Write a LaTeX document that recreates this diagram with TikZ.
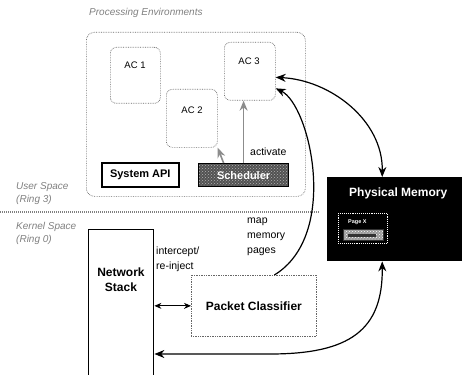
\documentclass[tikz,border=0pt]{standalone}
\usepackage{fontspec}
\setmainfont{Liberation Sans}
\usetikzlibrary{arrows.meta,patterns}
\begin{document}
\begin{tikzpicture}[x=1pt,y=-1pt,
  dbox/.style={draw=black!60, densely dotted, line width=0.7pt, rounded corners=6pt, inner sep=0pt, anchor=north west},
  solidbox/.style={draw=black, line width=1.4pt, inner sep=0pt, anchor=north west, fill=white},
  tip/.style={-{Stealth[length=10pt,width=8pt]}},
  dtip/.style={{Stealth[length=10pt,width=8pt]}-{Stealth[length=10pt,width=8pt]}},
  conn/.style={line width=1.2pt, black},
  grayarrow/.style={draw=black!45, line width=1.6pt, -{Stealth[length=10pt,width=8pt,fill=black!35]}},
  lbl/.style={font=\fontsize{10}{13}\selectfont\itshape, text=black!50, align=left, inner sep=0pt, anchor=north west},
  txt/.style={font=\fontsize{10.5}{15}\selectfont, align=left, inner sep=0pt, anchor=north west},
  actxt/.style={font=\fontsize{9.5}{11}\selectfont, inner sep=0pt},
  boldtxt/.style={font=\fontsize{12}{15}\selectfont\bfseries, inner sep=0pt, align=center}]
\useasboundingbox (0,0) rectangle (462,374);
\clip (0,0) rectangle (462,374);

% labels
\node[lbl] (title) at (89,8) {Processing Environments};
\node[lbl] (user) at (16,182) {User Space\\(Ring 3)};
\node[lbl] (kernel) at (16,222) {Kernel Space\\(Ring 0)};

% separator
\coordinate (sepL) at (0,212);
\coordinate (sepR) at (320,212);
\draw[black!50, line width=1.6pt, dash pattern=on 1pt off 1pt] (sepL) -- (sepR);

% processing environment
\node[dbox, rounded corners=8pt, minimum width=219pt, minimum height=164pt] (outer) at (86,32) {};
\node[dbox, minimum width=50pt, minimum height=56pt] (ac1) at (110,47) {};
\node[dbox, minimum width=51pt, minimum height=58pt] (ac2) at (166,89) {};
\node[dbox, minimum width=51pt, minimum height=58pt] (ac3) at (224,42) {};
\node[actxt] (ac1t) at (135,65) {AC 1};
\node[actxt] (ac2t) at (192,110) {AC 2};
\node[actxt] (ac3t) at (249,61) {AC 3};

\node[solidbox, line width=1.6pt, minimum width=77pt, minimum height=24pt, font=\fontsize{11}{13}\selectfont\bfseries] (api) at (101,162) {System API};
\node[draw=black, line width=1.2pt, inner sep=0pt, anchor=north west, minimum width=90pt, minimum height=23pt,
      preaction={fill=black!68}, pattern=crosshatch dots, pattern color=black!30] (sched) at (198,163) {};
\node[font=\fontsize{11}{13}\selectfont\bfseries, text=white, inner sep=0pt] (schedt) at (sched.center) {Scheduler};

\draw[grayarrow] ([xshift=-20pt]sched.north) -- (ac2.south east);
\draw[grayarrow] (sched.north) -- (sched.north |- ac3.south);
\node[txt, font=\fontsize{10.5}{13}\selectfont] (act) at (250,148) {activate};

% kernel
\node[solidbox, line width=1.4pt, minimum width=65pt, minimum height=160pt] (net) at (88,229) {};
\node[boldtxt] (nett) at (121,280) {Network\\Stack};
\node[txt] (icpt) at (156,247) {intercept/\\re-inject};
\node[dbox, rounded corners=0pt, minimum width=125pt, minimum height=61pt] (pc) at (191,275) {};
\node[boldtxt] (pct) at (pc.center) {Packet Classifier};
\node[txt] (map) at (247,218) {map\\memory\\pages};

% physical memory
\node[fill=black, inner sep=0pt, anchor=north west, minimum width=135pt, minimum height=84pt] (pm) at (327,177) {};
\node[font=\fontsize{12}{14}\selectfont\bfseries, text=white, inner sep=0pt, anchor=west] (pmt) at (349,193) {Physical Memory};
\node[draw=white, densely dotted, line width=0.9pt, inner sep=0pt, anchor=north west, minimum width=49pt, minimum height=30pt] (page) at (338,213) {};
\node[font=\fontsize{5.5}{7}\selectfont\bfseries, text=white, inner sep=0pt, anchor=west] (paget) at (348,222) {Page X};
\node[draw=black!80, line width=0.6pt, inner sep=0pt, anchor=north west, minimum width=40pt, minimum height=11pt,
      preaction={fill=black!40}, pattern=crosshatch dots, pattern color=white] (pagebar) at (343,229) {};
\node[fill=black!80, inner sep=0pt, anchor=north west, minimum width=28pt, minimum height=3pt] (pagecore) at (348,234) {};

% connectors
\draw[line width=0.9pt, {Stealth[length=7pt,width=6pt]}-{Stealth[length=7pt,width=6pt]}] (pc.west -| net.east) -- (pc.west);
\coordinate (lowy) at (0,354);
\coordinate (bend) at (270,354);
\draw[conn, dtip] (net.east |- lowy) -- (bend) .. controls (350,354) and (383,330) .. ([xshift=-12.5pt]pm.south);
\draw[conn, dtip] ([yshift=-6pt]ac3.east) .. controls (330,80) and (383,120) .. ([xshift=-12.5pt]pm.north);
\draw[conn, tip] ([xshift=20.5pt]pc.north) .. controls (340,235) and (310,105) .. ([yshift=-17pt]ac3.east);
\end{tikzpicture}
\end{document}
